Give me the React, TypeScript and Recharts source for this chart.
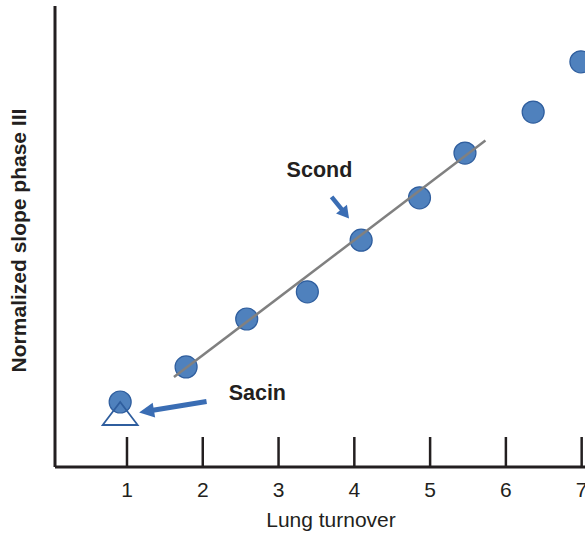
import { ScatterChart, Scatter, XAxis, YAxis, ReferenceLine, ReferenceDot, Label } from 'recharts';

// Lung turnover vs normalized phase III slope
const turnover = [0.91, 1.78, 2.58, 3.38, 4.09, 4.86, 5.46, 6.36, 6.99];
const slope = [1.41, 2.17, 3.21, 3.8, 4.92, 5.84, 6.81, 7.7, 8.79];

// Sacin marker (open triangle under the first point)
const sacinTurnover = [0.91];
const sacinSlope = [1.16];

// regression line through the Scond region
const fitX = [1.62, 5.73];
const fitY = [1.95, 7.08];

// annotation arrows: [start, tip]
const scondArrowX = [3.7, 3.93];
const scondArrowY = [5.86, 5.39];
const sacinArrowX = [2.05, 1.16];
const sacinArrowY = [1.42, 1.18];

const xTicks = [1, 2, 3, 4, 5, 6, 7];

const points = turnover.map((x, i) => ({ x, y: slope[i] }));
const sacinPoints = sacinTurnover.map((x, i) => ({ x, y: sacinSlope[i] }));
const fitPoints = fitX.map((x, i) => ({ x, y: fitY[i] }));

const INK = '#231f20';
const BLUE = '#4f81bd';
const BLUE_DARK = '#2f5e9e';
const ARROW = '#3a6db4';
const FONT = '"Liberation Sans", Arial, Helvetica, sans-serif';

function Dot(p: any) {
  return <circle cx={p.cx} cy={p.cy} r={11} fill={BLUE} stroke={BLUE_DARK} strokeWidth={1.2} />;
}

function Triangle(p: any) {
  const { cx, cy } = p;
  const w = 17.5;
  const h = 23;
  return (
    <path
      d={`M${cx},${cy - h / 2} L${cx + w},${cy + h / 2} L${cx - w},${cy + h / 2} Z`}
      fill="none"
      stroke={BLUE_DARK}
      strokeWidth={1.8}
    />
  );
}

function arrowShape(shaft: number, headLen: number, headHalf: number) {
  return (p: any) => {
    const { x1, y1, x2, y2 } = p;
    const dx = x2 - x1;
    const dy = y2 - y1;
    const len = Math.hypot(dx, dy) || 1;
    const ux = dx / len;
    const uy = dy / len;
    const bx = x2 - ux * headLen;
    const by = y2 - uy * headLen;
    const nx = -uy;
    const ny = ux;
    return (
      <g>
        <line x1={x1} y1={y1} x2={bx + ux} y2={by + uy} stroke={ARROW} strokeWidth={shaft} />
        <polygon
          points={`${x2},${y2} ${bx + nx * headHalf},${by + ny * headHalf} ${bx - nx * headHalf},${by - ny * headHalf}`}
          fill={ARROW}
        />
      </g>
    );
  };
}

function annotation(text: string) {
  return (p: any) => (
    <text x={p.cx} y={p.cy} dy="0.36em" textAnchor="middle" fontFamily={FONT} fontSize={21.5} fontWeight="bold" fill={INK}>
      {text}
    </text>
  );
}

export default function App() {
  return (
    <div style={{ position: 'absolute', left: 0, top: 0, width: 585, height: 534, background: '#fff' }}>
      <ScatterChart width={585} height={534} margin={{ top: 6, right: 0, bottom: 0, left: 54 }}>
        <XAxis
          type="number"
          dataKey="x"
          domain={[0.05, 7.044]}
          ticks={xTicks}
          interval={0}
          allowDataOverflow
          height={67}
          axisLine={{ stroke: INK, strokeWidth: 3 }}
          tickLine={{ stroke: INK, strokeWidth: 2.5 }}
          tickSize={-30}
          tickMargin={45}
          tick={{ fontSize: 21, fill: INK, fontFamily: FONT }}
        >
          <Label
            content={(props: any) => {
              const vb = props.viewBox;
              return (
                <text x={vb.x + vb.width / 2 + 11} y={vb.y + 60} textAnchor="middle" fontFamily={FONT} fontSize={21} fill={INK}>
                  Lung turnover
                </text>
              );
            }}
          />
        </XAxis>
        <YAxis
          type="number"
          dataKey="y"
          domain={[0, 10]}
          width={1}
          tick={false}
          tickLine={false}
          axisLine={{ stroke: INK, strokeWidth: 3 }}
        >
          <Label
            content={(props: any) => {
              const vb = props.viewBox;
              const x = vb.x + vb.width - 29;
              const y = vb.y + vb.height / 2 + 4;
              return (
                <text
                  x={x}
                  y={y}
                  transform={`rotate(-90, ${x}, ${y})`}
                  textAnchor="middle"
                  fontFamily={FONT}
                  fontSize={21}
                  fontWeight="bold"
                  fill={INK}
                >
                  Normalized slope phase III
                </text>
              );
            }}
          />
        </YAxis>
        <Scatter data={points} shape={Dot} isAnimationActive={false} />
        <Scatter data={sacinPoints} shape={Triangle} isAnimationActive={false} />
        <Scatter
          data={fitPoints}
          line={{ stroke: '#808080', strokeWidth: 2.5 }}
          lineType="joint"
          shape={() => <g />}
          isAnimationActive={false}
        />
        <ReferenceLine
          segment={[
            { x: scondArrowX[0], y: scondArrowY[0] },
            { x: scondArrowX[1], y: scondArrowY[1] },
          ]}
          shape={arrowShape(4.5, 12, 7)}
          ifOverflow="visible"
        />
        <ReferenceLine
          segment={[
            { x: sacinArrowX[0], y: sacinArrowY[0] },
            { x: sacinArrowX[1], y: sacinArrowY[1] },
          ]}
          shape={arrowShape(5, 15, 7.5)}
          ifOverflow="visible"
        />
        <ReferenceDot x={3.54} y={6.46} r={0} shape={annotation('Scond')} ifOverflow="visible" />
        <ReferenceDot x={2.72} y={1.63} r={0} shape={annotation('Sacin')} ifOverflow="visible" />
      </ScatterChart>
    </div>
  );
}
